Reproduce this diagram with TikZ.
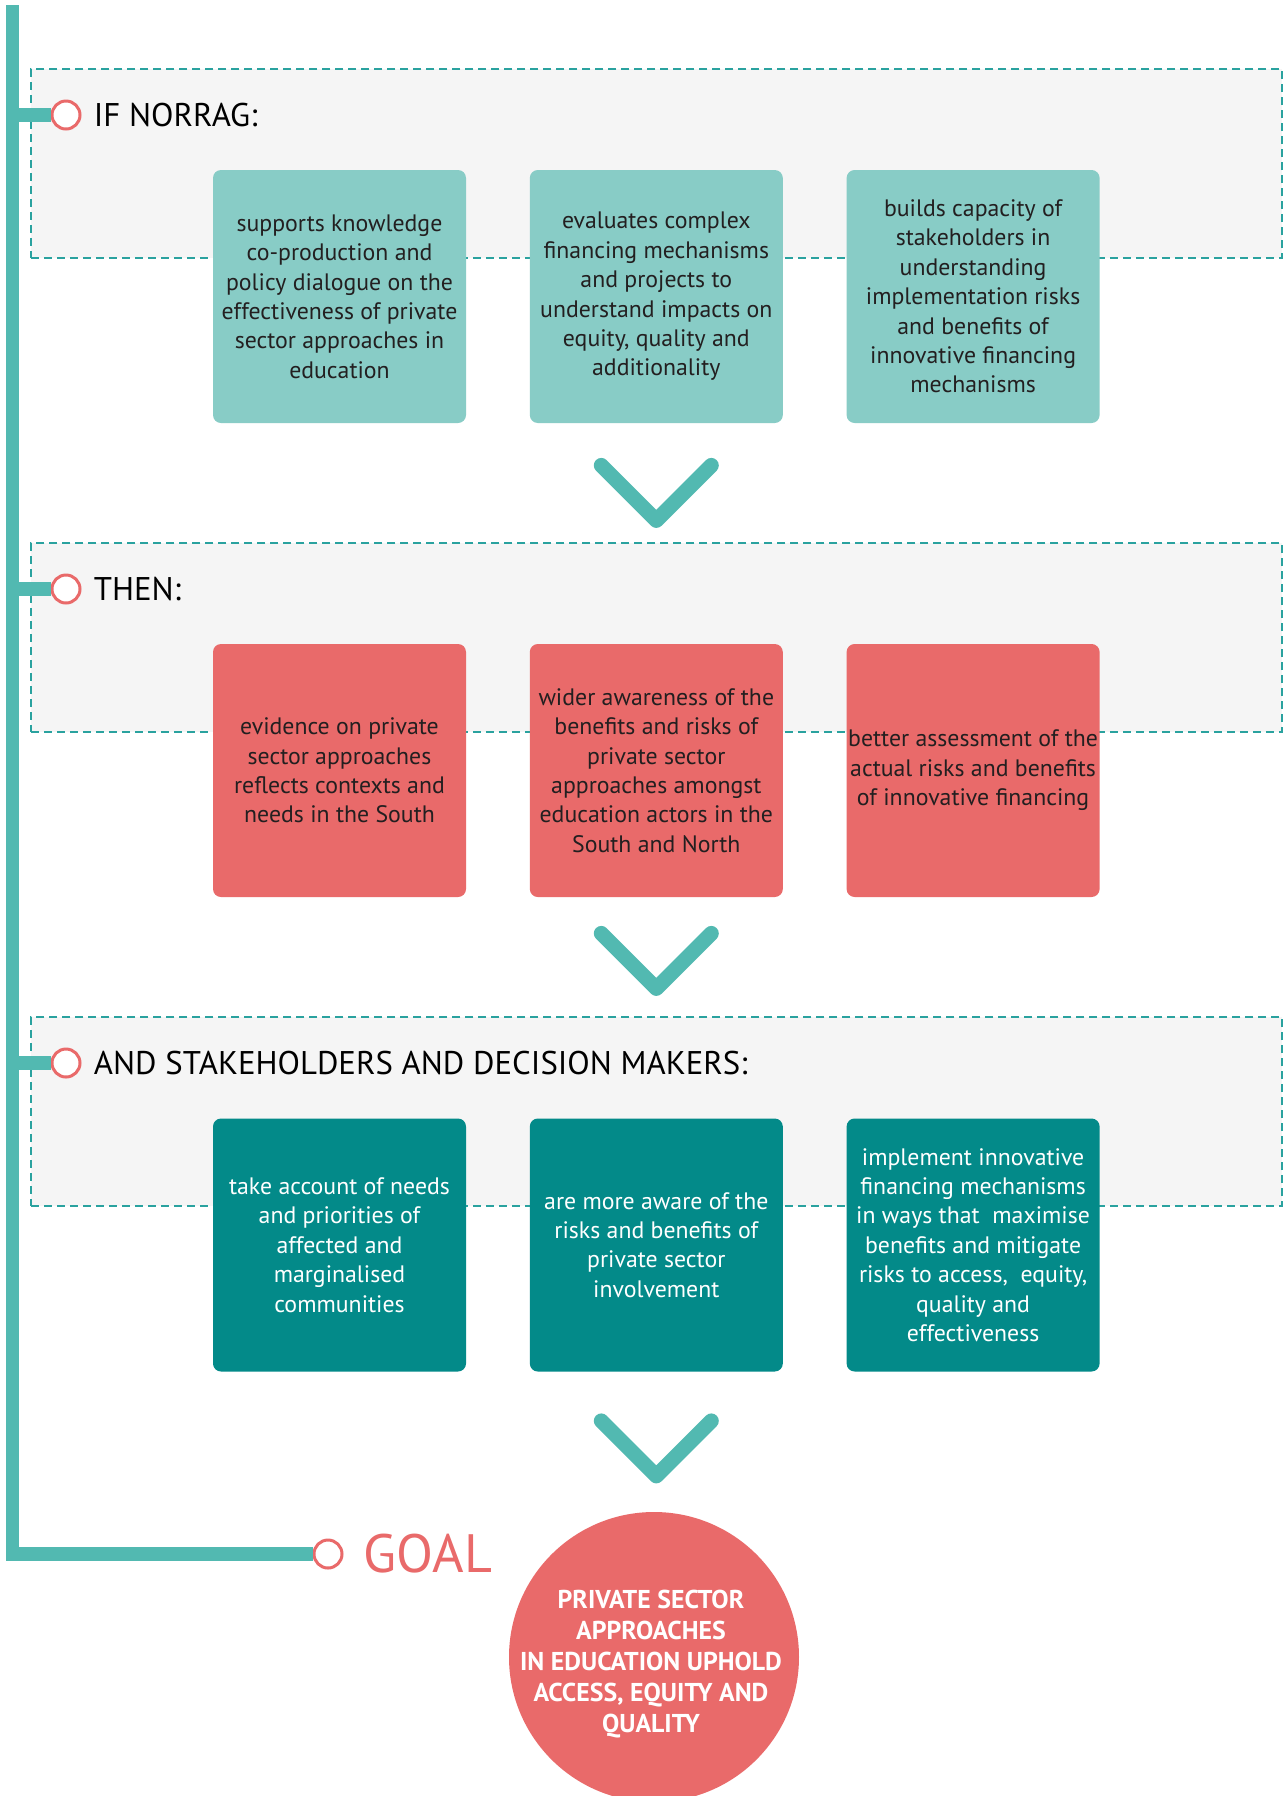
\documentclass[tikz,border=0pt]{standalone}
\usepackage{fontspec}
\setmainfont{PT Sans}
\usetikzlibrary{positioning}
\definecolor{spineteal}{HTML}{52B9B1}
\definecolor{lightteal}{HTML}{88CCC6}
\definecolor{coral}{HTML}{E96A6A}
\definecolor{darkteal}{HTML}{038A89}
\definecolor{dashteal}{HTML}{2AA29F}
\definecolor{panelgrey}{HTML}{F5F5F5}
\definecolor{inktext}{HTML}{231F20}
\tikzset{
  panel/.style={draw=dashteal, fill=panelgrey, dash pattern=on 4pt off 2.5pt,
    line width=0.8pt, minimum width=625.5pt, minimum height=94.5pt, inner sep=0pt},
  card/.style={rounded corners=4pt, minimum width=126.5pt, minimum height=126.5pt,
    align=center, inner sep=0pt, font=\fontsize{11.9}{14.7}\selectfont},
  ifcard/.style={card, fill=lightteal, text=inktext},
  thencard/.style={card, fill=coral, text=inktext},
  andcard/.style={card, fill=darkteal, text=white},
  dot/.style={circle, draw=coral, fill=white, line width=1.5pt, minimum size=14pt, inner sep=0pt},
  heading/.style={anchor=west, inner sep=0pt, text=black, font=\fontsize{16.4}{20}\selectfont},
  spine/.style={draw=spineteal, line width=6.8pt},
  chevron/.style={draw=spineteal, line width=7.5pt, line cap=round, line join=round}
}
\begin{document}
\begin{tikzpicture}[x=0.5pt,y=-0.5pt]
\useasboundingbox[fill=white] (0,0) rectangle (1284,1796);

% dashed panels
\node[panel] (p1) at (656.75,163.5) {};
\node[panel] (p2) at (656.75,637.5) {};
\node[panel] (p3) at (656.75,1111.5) {};

% spine and goal line
\coordinate (top) at (12.5,5);
\node[dot] (cg) at (328,1554) {};
\draw[spine] (top) |- (cg.west);

% section markers
\node[dot] (c1) at (66,115) {};
\node[dot] (c2) at (66,589) {};
\node[dot] (c3) at (66,1063) {};
\foreach \c in {c1,c2,c3}
  \draw[spine] (\c -| top) -- (\c.west);
\node[heading, right=6pt of c1] (h1) {IF NORRAG:};
\node[heading, right=6pt of c2] (h2) {THEN:};
\node[heading, right=6pt of c3] (h3) {AND STAKEHOLDERS AND DECISION MAKERS:};

% row 1
\node[ifcard] (a1) at (339.5,296.5) {supports knowledge\\co-production and\\policy dialogue on the\\effectiveness of private\\sector approaches in\\education};
\node[ifcard, right=31.5pt of a1] (a2) {evaluates complex\\financing mechanisms\\and projects to\\understand impacts on\\equity, quality and\\additionality};
\node[ifcard, right=31.5pt of a2] (a3) {builds capacity of\\stakeholders in\\understanding\\implementation risks\\and benefits of\\innovative financing\\mechanisms};

% row 2
\node[thencard] (b1) at (339.5,770.5) {evidence on private\\sector approaches\\reflects contexts and\\needs in the South};
\node[thencard, right=31.5pt of b1] (b2) {wider awareness of the\\benefits and risks of\\private sector\\approaches amongst\\education actors in the\\South and North};
\node[thencard, right=31.5pt of b2] (b3) {better assessment of the\\actual risks and benefits\\of innovative financing};

% row 3
\node[andcard] (d1) at (339.5,1245) {take account of needs\\and priorities of\\affected and\\marginalised\\communities};
\node[andcard, right=31.5pt of d1] (d2) {are more aware of the\\risks and benefits of\\private sector\\involvement};
\node[andcard, right=31.5pt of d2] (d3) {implement innovative\\financing mechanisms\\in ways that~ maximise\\benefits and mitigate\\risks to access,~ equity,\\quality and\\effectiveness};

% chevrons
\coordinate[below=21pt of a2] (v1);
\coordinate[below=18pt of b2] (v2);
\coordinate[below=24.5pt of d2] (v3);
\foreach \v in {v1,v2,v3}
  \draw[chevron] (\v) ++(-55,0) -- ++(55,55) -- ++(55,-55);

% goal
\node[anchor=west, inner sep=0pt, text=coral, font=\fontsize{27}{30}\selectfont,
  right=10pt of cg] (goal) {GOAL};
\node[circle, fill=coral, minimum size=145pt, inner sep=0pt] (target) at (654,1657) {};
\node[align=center, text=white, font=\bfseries\fontsize{12.9}{15.6}\selectfont]
  (targettext) at (651,1664) {PRIVATE SECTOR\\APPROACHES\\IN EDUCATION UPHOLD\\ACCESS, EQUITY AND\\QUALITY};
\end{tikzpicture}
\end{document}
